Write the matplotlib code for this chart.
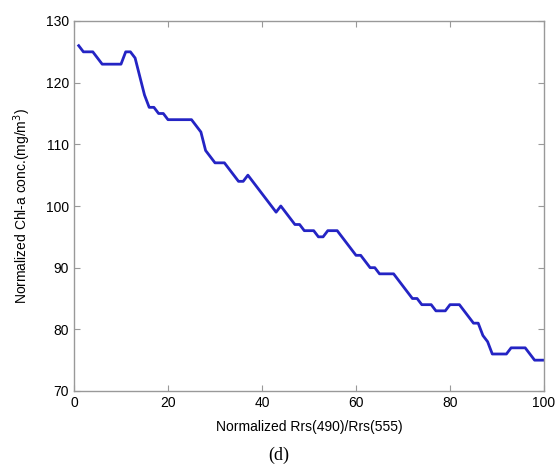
import matplotlib
matplotlib.use("Agg")
import matplotlib.pyplot as plt

# values, one per x step
x_vals = list(range(1, 101))
chl = [126, 125, 125, 125, 124, 123, 123, 123, 123, 123,
       125, 125, 124, 121, 118, 116, 116, 115, 115, 114,
       114, 114, 114, 114, 114, 113, 112, 109, 108, 107,
       107, 107, 106, 105, 104, 104, 105, 104, 103, 102,
       101, 100, 99, 100, 99, 98, 97, 97, 96, 96,
       96, 95, 95, 96, 96, 96, 95, 94, 93, 92,
       92, 91, 90, 90, 89, 89, 89, 89, 88, 87,
       86, 85, 85, 84, 84, 84, 83, 83, 83, 84,
       84, 84, 83, 82, 81, 81, 79, 78, 76, 76,
       76, 76, 77, 77, 77, 77, 76, 75, 75, 75]
x_ticks = [0, 20, 40, 60, 80, 100]
y_ticks = [70, 80, 90, 100, 110, 120, 130]

plt.rcParams['font.family'] = ['Liberation Sans', 'DejaVu Sans']

fig = plt.figure(figsize=(5.58, 4.68), dpi=100)
ax = fig.add_axes([74 / 558, 77 / 468, 470 / 558, 370 / 468])

ax.plot(x_vals, chl, color='#2424c4', linewidth=2.0)

ax.set_xlim(0, 100)
ax.set_ylim(70, 130)
ax.set_xticks(x_ticks)
ax.set_yticks(y_ticks)
ax.tick_params(direction='in', length=4, width=0.8, color='#999999',
               labelsize=10, labelcolor='black', top=True, right=True)
for s in ax.spines.values():
    s.set_color('#999999')
    s.set_linewidth(1.0)

ax.set_xlabel("Normalized Rrs(490)/Rrs(555)", fontsize=10, labelpad=7)
ax.set_ylabel("Normalized Chl-a conc.(mg/m$^3$)", fontsize=10, labelpad=9)

fig.text(0.5, 13 / 468, "(d)", ha='center', va='center',
         family=['Liberation Serif'], fontsize=13)

fig.savefig("out.png", dpi=100)
